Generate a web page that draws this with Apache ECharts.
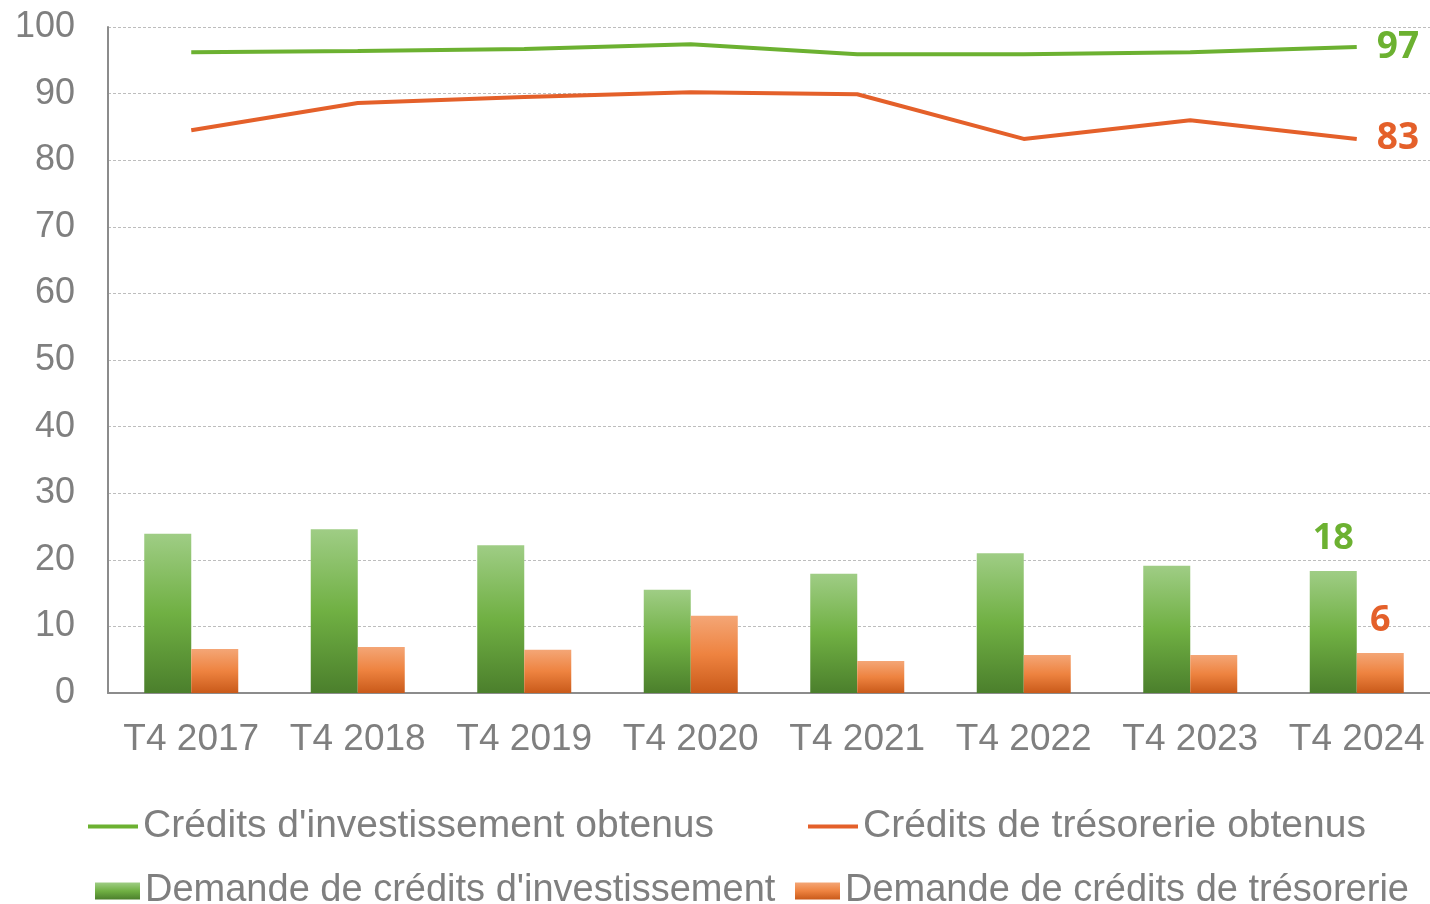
<!DOCTYPE html>
<html>
<head>
<meta charset="utf-8">
<script src="https://cdn.jsdelivr.net/npm/echarts@6/dist/echarts.min.js"></script>
<style>html,body{margin:0;padding:0;background:#fff;}#c{width:1430px;height:904px;}</style>
</head>
<body>
<div id="c"></div>
<script>
var categories = ['T4 2017','T4 2018','T4 2019','T4 2020','T4 2021','T4 2022','T4 2023','T4 2024'];
var invObtenus = [96.2, 96.4, 96.7, 97.4, 95.9, 95.9, 96.2, 97.0];
var tresoObtenus = [84.5, 88.6, 89.5, 90.2, 89.9, 83.2, 86.0, 83.2];
var invDemande = [23.9, 24.6, 22.2, 15.5, 17.9, 21.0, 19.1, 18.3];
var tresoDemande = [6.6, 6.9, 6.5, 11.6, 4.8, 5.7, 5.7, 6.0];
var lastLabels = {inv: '97', treso: '83', invD: '18', tresoD: '6'};

var FONT = '"Liberation Sans", Arial, sans-serif';
var BOLDFONT = '"Open Sans", "Liberation Sans", sans-serif';
var GRAY = '#7f7f7f';
var GREEN = '#6cb131';
var ORANGE = '#e4602a';

function lastLabel(arr, text, color, pos, dist) {
  return arr.map(function (v, i) {
    if (i === arr.length - 1) {
      return {value: v, label: {show: true, position: pos, distance: dist, formatter: text,
        color: color, fontSize: 36, fontWeight: 'bold', fontFamily: BOLDFONT}};
    }
    return v;
  });
}

var greenGrad = new echarts.graphic.LinearGradient(0, 0, 0, 1, [
  {offset: 0, color: '#9fcd85'}, {offset: 0.5, color: '#70b043'}, {offset: 1, color: '#4b7f2c'}]);
var orangeGrad = new echarts.graphic.LinearGradient(0, 0, 0, 1, [
  {offset: 0, color: '#f4a676'}, {offset: 0.5, color: '#ee8340'}, {offset: 1, color: '#c95a1a'}]);

var legendText1 = {color: GRAY, fontSize: 39, fontFamily: FONT};
var legendText2 = {color: GRAY, fontSize: 38, fontFamily: FONT};

var chart = echarts.init(document.getElementById('c'));
chart.setOption({
  animation: false,
  grid: {left: 108, width: 1332, top: 27, height: 666, containLabel: false, outerBoundsMode: 'none'},
  legend: [
    {data: [{name: "Crédits d'investissement obtenus", icon: 'rect'}], left: 88, top: 807, itemWidth: 50, itemHeight: 4, itemGap: 0, textStyle: legendText1, padding: 0},
    {data: [{name: 'Crédits de trésorerie obtenus', icon: 'rect'}], left: 808, top: 807, itemWidth: 50, itemHeight: 4, textStyle: legendText1, padding: 0},
    {data: [{name: "Demande de crédits d'investissement", icon: 'rect'}], left: 95, top: 872, itemWidth: 45, itemHeight: 17, textStyle: legendText2, padding: 0},
    {data: [{name: 'Demande de crédits de trésorerie', icon: 'rect'}], left: 795, top: 872, itemWidth: 45, itemHeight: 17, textStyle: legendText2, padding: 0}
  ],
  xAxis: {
    type: 'category', data: categories,
    axisLine: {lineStyle: {color: '#8c8c8c', width: 2}},
    axisTick: {show: false},
    axisLabel: {color: GRAY, fontSize: 37, fontFamily: FONT, margin: 28, interval: 0}
  },
  yAxis: {
    type: 'value', min: 0, max: 100, interval: 10,
    axisLine: {show: true, lineStyle: {color: '#8c8c8c', width: 2}},
    axisTick: {show: false},
    axisLabel: {color: GRAY, fontSize: 36, fontFamily: FONT, margin: 33},
    splitLine: {lineStyle: {color: '#bdbdbd', type: [3, 2], width: 1}}
  },
  series: [
    {name: "Demande de crédits d'investissement", type: 'bar', barWidth: 47, barGap: '0%',
      itemStyle: {color: greenGrad},
      data: lastLabel(invDemande, lastLabels.invD, GREEN, 'top', 14)},
    {name: 'Demande de crédits de trésorerie', type: 'bar', barWidth: 47, barGap: '0%',
      itemStyle: {color: orangeGrad},
      data: lastLabel(tresoDemande, lastLabels.tresoD, ORANGE, 'top', 14)},
    {name: "Crédits d'investissement obtenus", type: 'line', symbol: 'none', showSymbol: false,
      lineStyle: {color: GREEN, width: 4}, itemStyle: {color: GREEN},
      data: invObtenus,
      endLabel: {show: true, formatter: lastLabels.inv, color: GREEN, fontSize: 37, fontWeight: 'bold', distance: 20, fontFamily: BOLDFONT}},
    {name: 'Crédits de trésorerie obtenus', type: 'line', symbol: 'none', showSymbol: false,
      lineStyle: {color: ORANGE, width: 4}, itemStyle: {color: ORANGE},
      data: tresoObtenus,
      endLabel: {show: true, formatter: lastLabels.treso, color: ORANGE, fontSize: 37, fontWeight: 'bold', distance: 20, fontFamily: BOLDFONT}}
  ]
});
</script>
</body>
</html>
